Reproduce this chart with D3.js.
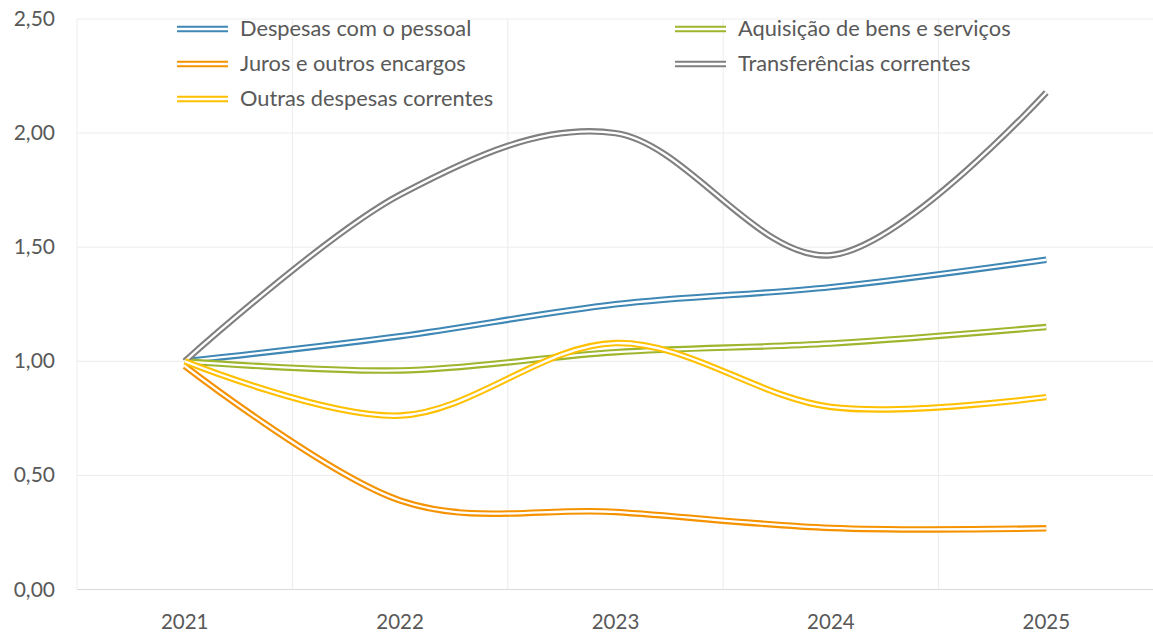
<!DOCTYPE html>
<html>
<head>
<meta charset="utf-8">
<script src="https://cdn.jsdelivr.net/npm/d3@7"></script>
<style>
  body { margin: 0; background: #fff; }
  svg { display: block; font-family: Lato, "Open Sans", sans-serif; }
</style>
</head>
<body>
<svg id="chart" width="1153" height="633"></svg>
<script>
const years = ['2021', '2022', '2023', '2024', '2025'];
const yTicks = [0, 0.5, 1, 1.5, 2, 2.5];

const pessoal = [1.00, 1.11, 1.25, 1.325, 1.445];
const aquisicao = [1.00, 0.96, 1.04, 1.078, 1.15];
const juros = [0.98, 0.39, 0.34, 0.27, 0.268];
const transferencias = [1.00, 1.73, 2.00, 1.465, 2.178];
const outras = [1.00, 0.762, 1.08, 0.80, 0.843];

// draw order follows the legend (row by row)
const series = [
    { name: 'Despesas com o pessoal', values: pessoal, color: '#3F87B5' },
    { name: 'Aquisição de bens e serviços', values: aquisicao, color: '#9EB52E' },
    { name: 'Juros e outros encargos', values: juros, color: '#F59200' },
    { name: 'Transferências correntes', values: transferencias, color: '#808080' },
    { name: 'Outras despesas correntes', values: outras, color: '#FFC000' }
];

const svg = d3.select('#chart');
const plotLeft = 77, plotRight = 1154, plotTop = 19, plotBottom = 589.5;

const x = d3.scaleBand().domain(years).range([plotLeft, plotRight]).padding(0);
const y = d3.scaleLinear().domain([0, 2.5]).range([plotBottom, plotTop]);

// grid
svg.append('g')
    .selectAll('line')
    .data(yTicks)
    .join('line')
    .attr('x1', plotLeft).attr('x2', plotRight)
    .attr('y1', (d) => y(d)).attr('y2', (d) => y(d))
    .attr('stroke', (d) => d === 0 ? '#d9d9d9' : '#ececec')
    .attr('stroke-width', 1);

svg.append('g')
    .selectAll('line')
    .data(years)
    .join('line')
    .attr('x1', (d) => x(d)).attr('x2', (d) => x(d))
    .attr('y1', plotTop).attr('y2', plotBottom)
    .attr('stroke', '#ececec')
    .attr('stroke-width', 1);

// y labels
svg.append('g')
    .selectAll('text')
    .data(yTicks)
    .join('text')
    .attr('x', 55)
    .attr('y', (d) => y(d) + 7)
    .attr('text-anchor', 'end')
    .style('font-size', '21px')
    .style('fill', '#595959')
    .text((d) => d3.format('.2f')(d).replace('.', ','));

// x labels
svg.append('g')
    .selectAll('text')
    .data(years)
    .join('text')
    .attr('x', (d) => x(d) + x.bandwidth() / 2)
    .attr('y', 629)
    .attr('text-anchor', 'middle')
    .style('font-size', '20.5px')
    .style('fill', '#595959')
    .text((d) => d);

const line = d3.line()
    .x((d, i) => x(years[i]) + x.bandwidth() / 2)
    .y((d) => y(d))
    .curve(d3.curveCardinal.tension(0));

// double lines: wide colour stroke with a thin white core
series.forEach((s) => {
    const g = svg.append('g');
    g.append('path')
        .attr('d', line(s.values))
        .attr('fill', 'none')
        .attr('stroke', s.color)
        .attr('stroke-width', 6.5);
    g.append('path')
        .attr('d', line(s.values))
        .attr('fill', 'none')
        .attr('stroke', '#fff')
        .attr('stroke-width', 2.3);
});

// legend
const legendPos = [
    [177, 29], [675, 29],
    [177, 64], [675, 64],
    [177, 99]
];

const legend = svg.append('g')
    .selectAll('g')
    .data(series)
    .join('g')
    .attr('transform', (d, i) => `translate(${legendPos[i][0]}, ${legendPos[i][1]})`);

legend.append('line')
    .attr('x1', 0).attr('x2', 51)
    .attr('stroke', (d) => d.color)
    .attr('stroke-width', 6.5);
legend.append('line')
    .attr('x1', 0).attr('x2', 51)
    .attr('stroke', '#fff')
    .attr('stroke-width', 2.3);
legend.append('text')
    .attr('x', 63)
    .attr('y', 7)
    .style('font-size', '21.8px')
    .style('fill', '#595959')
    .text((d) => d.name);
</script>
</body>
</html>
